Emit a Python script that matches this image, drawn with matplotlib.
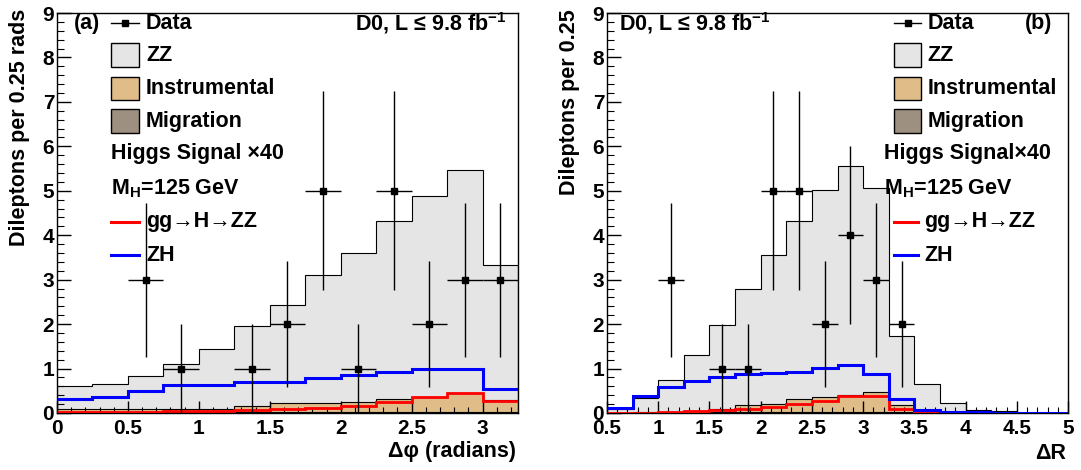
import numpy as np
import matplotlib
matplotlib.use("Agg")
import matplotlib.pyplot as plt
from matplotlib.patches import Rectangle
from matplotlib.lines import Line2D
from matplotlib.ticker import MultipleLocator, FuncFormatter

plt.rcParams['font.family'] = ['Liberation Sans', 'DejaVu Sans']
plt.rcParams['font.weight'] = 'bold'
plt.rcParams['mathtext.fontset'] = 'custom'
plt.rcParams['mathtext.rm'] = 'Liberation Sans:bold'
plt.rcParams['mathtext.it'] = 'Liberation Sans:bold'
plt.rcParams['mathtext.bf'] = 'Liberation Sans:bold'

# ---- panel (a): delta phi, 13 bins of 0.25 from 0 to 3.25
dphi_lo, dphi_width, dphi_nbins = 0.0, 0.25, 13
dphi_zz    = [0.52, 0.57, 0.76, 1.02, 1.36, 1.80, 2.22, 2.87, 3.35, 3.99, 4.51, 5.00, 3.04]
dphi_instr = [0.06, 0.06, 0.06, 0.06, 0.06, 0.13, 0.20, 0.21, 0.23, 0.30, 0.35, 0.44, 0.27]
dphi_migr  = [0.02, 0.02, 0.02, 0.02, 0.02, 0.02, 0.02, 0.02, 0.02, 0.02, 0.02, 0.02, 0.02]
dphi_ggh   = [0.03, 0.03, 0.03, 0.04, 0.04, 0.06, 0.08, 0.12, 0.15, 0.25, 0.35, 0.44, 0.28]
dphi_zh    = [0.31, 0.37, 0.50, 0.63, 0.62, 0.69, 0.69, 0.79, 0.85, 0.92, 0.98, 0.98, 0.55]
dphi_data  = [0, 0, 3, 1, 0, 1, 2, 5, 1, 5, 2, 3, 3]

# ---- panel (b): delta R, 18 bins of 0.25 from 0.5 to 5
dr_lo, dr_width, dr_nbins = 0.5, 0.25, 18
dr_zz    = [0.07, 0.32, 0.71, 1.25, 1.90, 2.62, 3.34, 4.02, 4.65, 5.15, 4.59, 1.54, 0.63, 0.21, 0.07, 0.04, 0.01, 0.01]
dr_instr = [0.01, 0.01, 0.02, 0.04, 0.06, 0.16, 0.19, 0.29, 0.35, 0.38, 0.46, 0.17, 0.01, 0.01, 0.0, 0.0, 0.0, 0.0]
dr_migr  = [0.0, 0.01, 0.01, 0.01, 0.02, 0.02, 0.02, 0.02, 0.02, 0.02, 0.02, 0.02, 0.01, 0.0, 0.0, 0.0, 0.0, 0.0]
dr_ggh   = [0.01, 0.01, 0.02, 0.04, 0.06, 0.09, 0.14, 0.20, 0.28, 0.38, 0.38, 0.08, 0.02, 0.0, 0.0, 0.0, 0.0, 0.0]
dr_zh    = [0.11, 0.39, 0.58, 0.72, 0.81, 0.87, 0.90, 0.92, 1.02, 1.08, 0.88, 0.32, 0.07, 0.02, 0.02, 0.01, 0.01, 0.01]
dr_data  = [0, 0, 3, 0, 1, 1, 5, 5, 2, 4, 3, 2, 0, 0, 0, 0, 0, 0]

ZZ_COL = '#e5e5e5'
INSTR_COL = '#dfbc88'
MIGR_COL = '#9d9080'
FS = 15.5
TFS = 15

tick_fmt = FuncFormatter(lambda v, _: f'{v:g}')


def draw_panel(ax, lo, width, nbins, zz, instr, migr, ggh, zh, data):
    edges = lo + width * np.arange(nbins + 1)
    s1 = np.asarray(migr)
    s2 = s1 + np.asarray(instr)
    s3 = s2 + np.asarray(zz)
    # stack: ZZ on top of instrumental on top of migration
    for vals, col in ((s3, ZZ_COL), (s2, INSTR_COL), (s1, MIGR_COL)):
        ax.stairs(vals, edges, baseline=0, fill=True, facecolor=col,
                  edgecolor='black', lw=0.8, zorder=1)
    ax.stairs(ggh, edges, baseline=None, color='#ff0000', lw=2.0, zorder=3)
    ax.stairs(zh, edges, baseline=None, color='#0000ff', lw=2.2, zorder=3)

    n = np.asarray(data, dtype=float)
    centers = 0.5 * (edges[:-1] + edges[1:])
    m = n > 0
    ax.errorbar(centers[m], n[m], yerr=np.sqrt(n[m]), xerr=width / 2,
                fmt='s', color='black', ms=5, elinewidth=1, capsize=0, zorder=5)

    ax.set_xlim(edges[0], edges[-1])
    ax.set_ylim(0, 9)
    ax.xaxis.set_major_locator(MultipleLocator(0.5))
    ax.xaxis.set_minor_locator(MultipleLocator(0.1))
    ax.yaxis.set_major_locator(MultipleLocator(1))
    ax.yaxis.set_minor_locator(MultipleLocator(0.2))
    ax.xaxis.set_major_formatter(tick_fmt)
    ax.yaxis.set_major_formatter(tick_fmt)
    ax.tick_params(which='both', direction='in', top=False, right=False, labelsize=TFS)
    ax.tick_params(axis='y', which='major', length=10, width=1, pad=2)
    ax.tick_params(axis='y', which='minor', length=5, width=0.8)
    ax.tick_params(axis='x', which='major', length=8.5, width=1, pad=4)
    ax.tick_params(axis='x', which='minor', length=4.3, width=0.8)
    for lab in ax.get_xticklabels() + ax.get_yticklabels():
        lab.set_fontweight('bold')
    for sp in ax.spines.values():
        sp.set_linewidth(1)


def draw_key(ax, box_x0, box_x1, text_x):
    rows = [0.975, 0.895, 0.812, 0.730, 0.648, 0.562, 0.478, 0.395]
    h = 0.058
    tr = ax.transAxes
    # data entry
    y = rows[0]
    ax.add_line(Line2D([box_x0, box_x1], [y, y], color='black', lw=1, transform=tr))
    ax.add_line(Line2D([(box_x0 + box_x1) / 2], [y], marker='s', ms=4.5,
                       color='black', transform=tr))
    ax.text(text_x, y, 'Data', transform=tr, va='center', ha='left', fontsize=FS)
    # filled boxes
    for y, col, lab in zip(rows[1:4], (ZZ_COL, INSTR_COL, MIGR_COL),
                           ('ZZ', 'Instrumental', 'Migration')):
        ax.add_patch(Rectangle((box_x0, y - h / 2), box_x1 - box_x0, h,
                               facecolor=col, edgecolor='black', lw=1, transform=tr))
        ax.text(text_x, y, lab, transform=tr, va='center', ha='left', fontsize=FS)
    return rows


fig = plt.figure(figsize=(10.81, 4.70), dpi=100)
ax_a = fig.add_axes([0.0527, 0.1213, 0.4265, 0.851])
ax_b = fig.add_axes([0.5615, 0.1213, 0.4265, 0.851])

draw_panel(ax_a, dphi_lo, dphi_width, dphi_nbins, dphi_zz, dphi_instr,
           dphi_migr, dphi_ggh, dphi_zh, dphi_data)
draw_panel(ax_b, dr_lo, dr_width, dr_nbins, dr_zz, dr_instr,
           dr_migr, dr_ggh, dr_zh, dr_data)

# ---- key, panel (a)
rows = draw_key(ax_a, 0.118, 0.177, 0.193)
tr = ax_a.transAxes
ax_a.text(0.036, rows[0], '(a)', transform=tr, va='center', ha='left', fontsize=FS)
ax_a.text(0.975, rows[0], 'D0, L ≤ 9.8 fb$^{-1}$', transform=tr, va='center',
          ha='right', fontsize=FS)
ax_a.text(0.118, rows[4], 'Higgs Signal ×40', transform=tr, va='center', ha='left', fontsize=FS)
ax_a.text(0.118, rows[5], 'M$_{H}$=125 GeV', transform=tr, va='center', ha='left', fontsize=FS)
for y, col, lab in ((rows[6], '#ff0000', 'gg→H→ZZ'), (rows[7], '#0000ff', 'ZH')):
    ax_a.add_line(Line2D([0.118, 0.177], [y, y], color=col, lw=2.2, transform=tr))
    ax_a.text(0.193, y, lab, transform=tr, va='center', ha='left', fontsize=FS)

# ---- key, panel (b)
rows = draw_key(ax_b, 0.622, 0.682, 0.695)
tr = ax_b.transAxes
ax_b.text(0.965, rows[0], '(b)', transform=tr, va='center', ha='right', fontsize=FS)
ax_b.text(0.025, rows[0], 'D0, L ≤ 9.8 fb$^{-1}$', transform=tr, va='center',
          ha='left', fontsize=FS)
ax_b.text(0.600, rows[4], 'Higgs Signal×40', transform=tr, va='center', ha='left', fontsize=FS)
ax_b.text(0.600, rows[5], 'M$_{H}$=125 GeV', transform=tr, va='center', ha='left', fontsize=FS)
for y, col, lab in ((rows[6], '#ff0000', 'gg→H→ZZ'), (rows[7], '#0000ff', 'ZH')):
    ax_b.add_line(Line2D([0.622, 0.674], [y, y], color=col, lw=2.2, transform=tr))
    ax_b.text(0.688, y, lab, transform=tr, va='center', ha='left', fontsize=FS)

# ---- axis titles
ax_a.set_ylabel('Dileptons per 0.25 rads', loc='top', fontsize=FS, fontweight='bold')
ax_a.yaxis.set_label_coords(-0.058, 1.01)
ax_b.set_ylabel('Dileptons per 0.25', loc='top', fontsize=FS, fontweight='bold')
ax_b.yaxis.set_label_coords(-0.058, 1.01)
ax_a.set_xlabel('Δφ (radians)', loc='right', fontsize=FS, fontweight='bold')
ax_a.xaxis.set_label_coords(0.995, -0.0975)
ax_a.xaxis.label.set_va('center')
ax_b.set_xlabel('ΔR', loc='right', fontsize=FS, fontweight='bold')
ax_b.xaxis.set_label_coords(0.995, -0.1025)
ax_b.xaxis.label.set_va('center')

fig.savefig('out.png', dpi=100)
